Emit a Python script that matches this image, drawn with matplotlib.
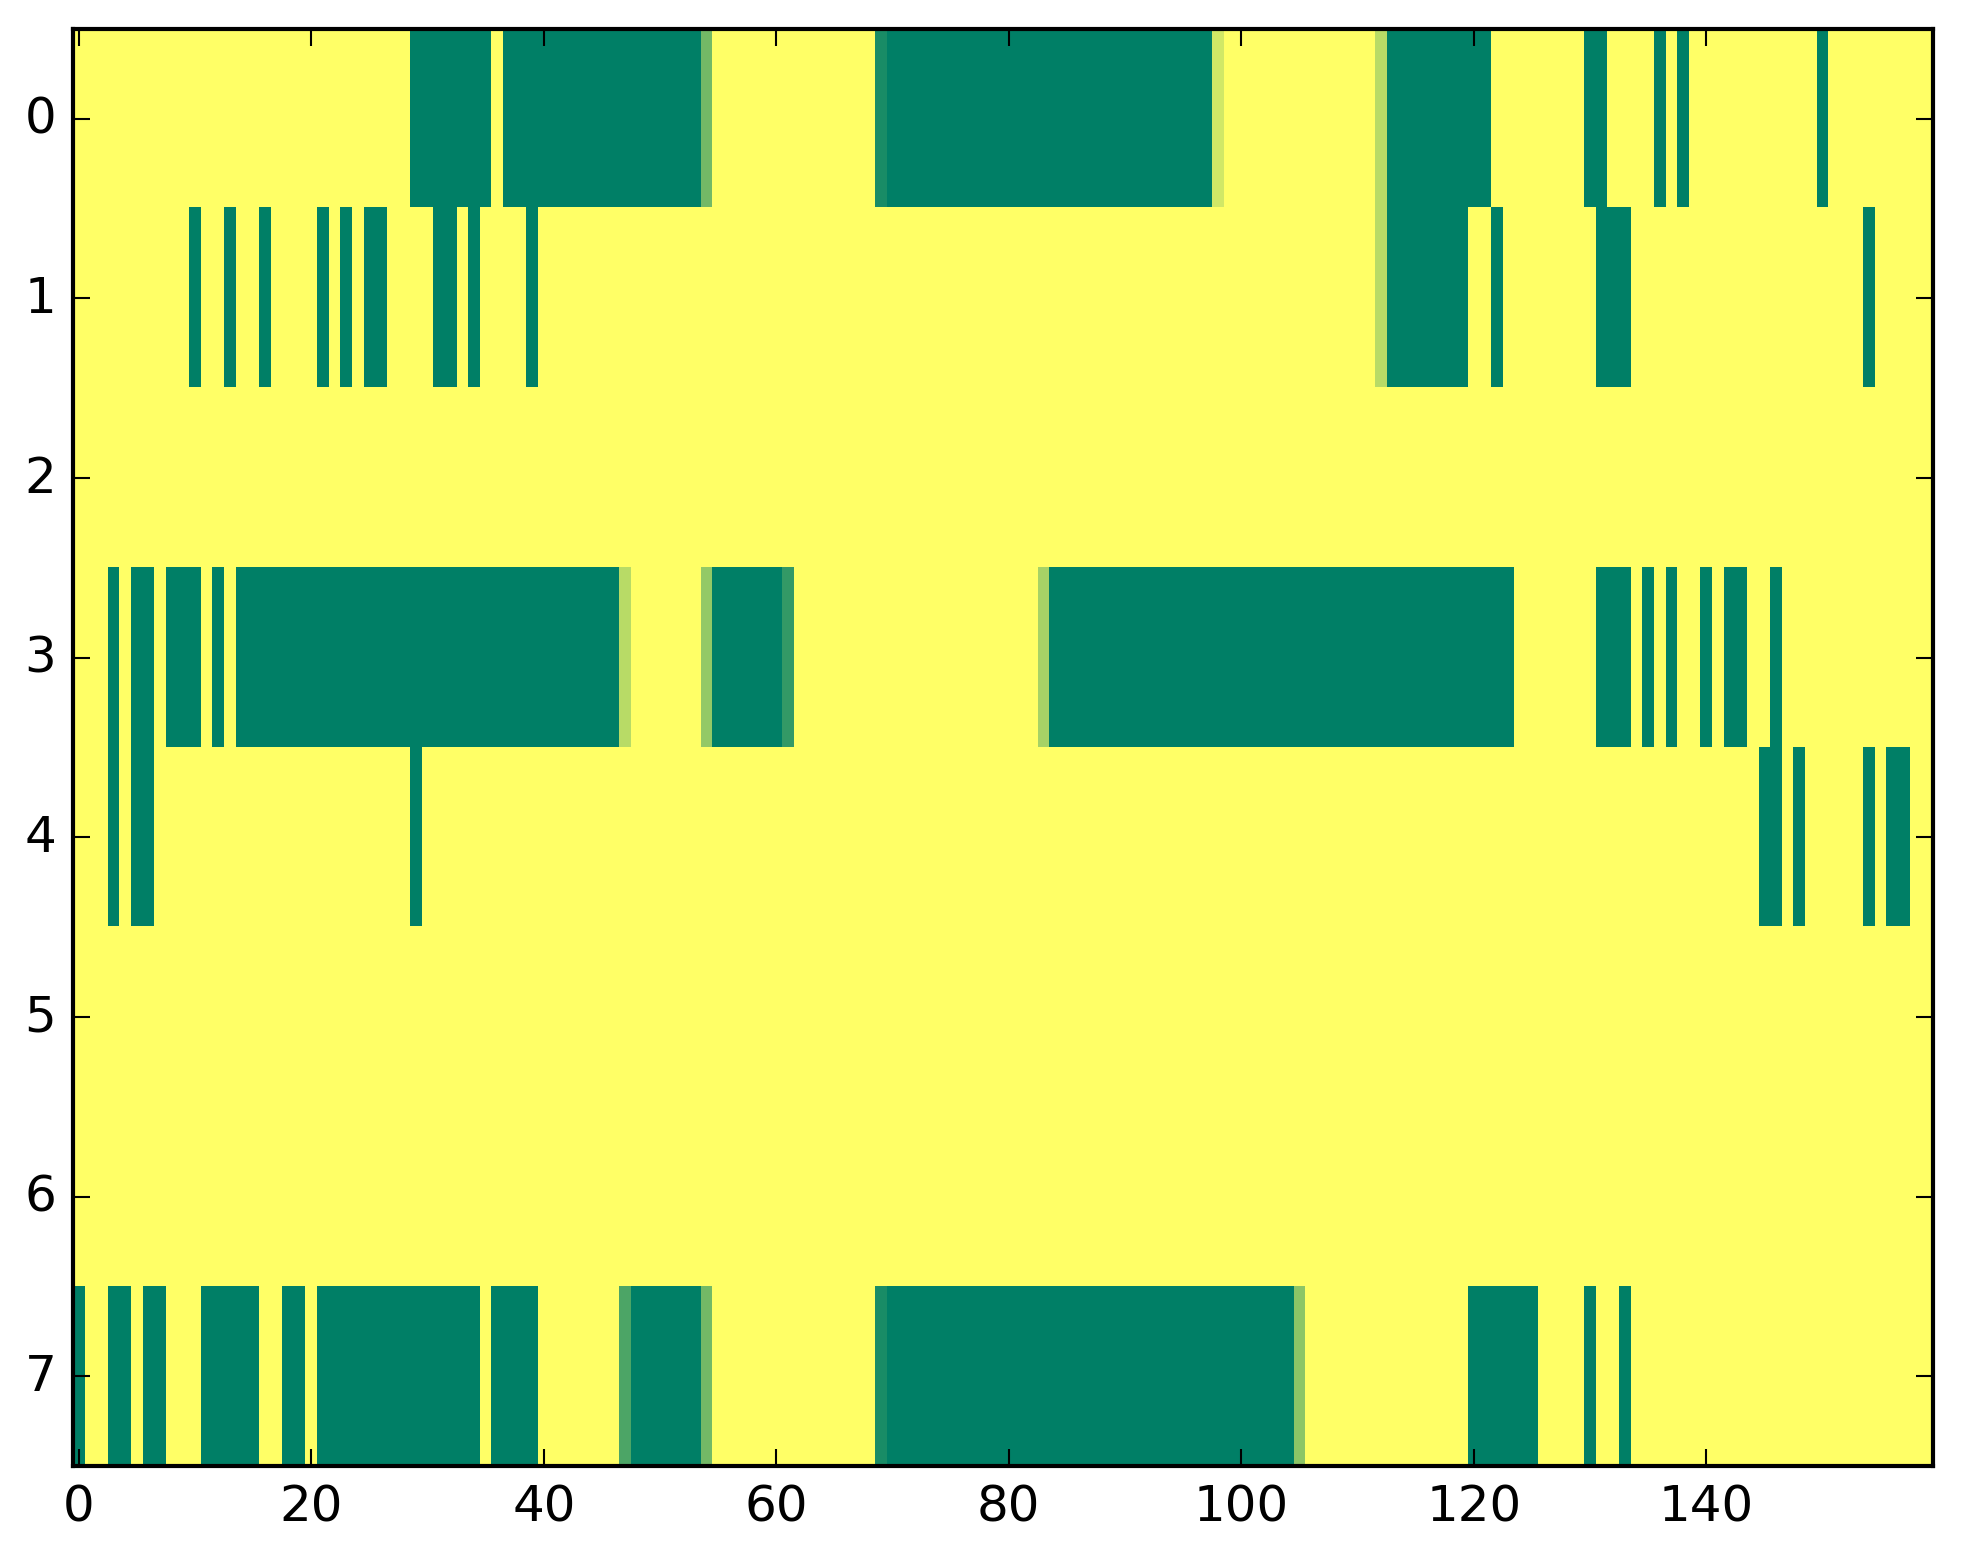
import numpy as np
import matplotlib
matplotlib.use('Agg')
import matplotlib.pyplot as plt

plt.style.use('classic')

n_rows = 8
n_cols = 160

# green runs (value 0) per row, inclusive column ranges
row0_runs = [(29, 35), (37, 53), (70, 97), (113, 121), (130, 131), (136, 136), (138, 138), (150, 150)]
row1_runs = [(10, 10), (13, 13), (16, 16), (21, 21), (23, 23), (25, 26), (31, 32), (34, 34), (39, 39),
             (113, 119), (122, 122), (131, 133), (154, 154)]
row2_runs = []
row3_runs = [(3, 3), (5, 6), (8, 10), (12, 12), (14, 46), (55, 60), (84, 123), (131, 133), (135, 135),
             (137, 137), (140, 140), (142, 143), (146, 146)]
row4_runs = [(3, 3), (5, 6), (29, 29), (145, 146), (148, 148), (154, 154), (156, 157)]
row5_runs = []
row6_runs = []
row7_runs = [(0, 0), (3, 4), (6, 7), (11, 15), (18, 19), (21, 34), (36, 39), (48, 53), (70, 104),
             (120, 125), (130, 130), (133, 133)]

# cells with in-between values: (row, col, value)
partial_cells = [(0, 54, 0.45), (0, 69, 0.1), (0, 98, 0.82), (0, 112, 0.72),
                 (1, 112, 0.72),
                 (3, 47, 0.72), (3, 54, 0.58), (3, 61, 0.2), (3, 83, 0.65),
                 (7, 47, 0.3), (7, 54, 0.45), (7, 69, 0.1), (7, 105, 0.55)]

all_runs = [row0_runs, row1_runs, row2_runs, row3_runs, row4_runs, row5_runs, row6_runs, row7_runs]

data = np.ones((n_rows, n_cols))
for r, runs in enumerate(all_runs):
    for a, b in runs:
        data[r, a:b + 1] = 0.0
for r, c, v in partial_cells:
    data[r, c] = v

fig = plt.figure(figsize=(1963 / 300.0, 1564 / 300.0), dpi=300, facecolor='white')
ax = fig.add_axes([0.0372, 0.062, 0.9475, 0.9188])
ax.imshow(data, cmap='summer', aspect='auto', interpolation='nearest')

fig.savefig('out.png', dpi=300, facecolor='white')
